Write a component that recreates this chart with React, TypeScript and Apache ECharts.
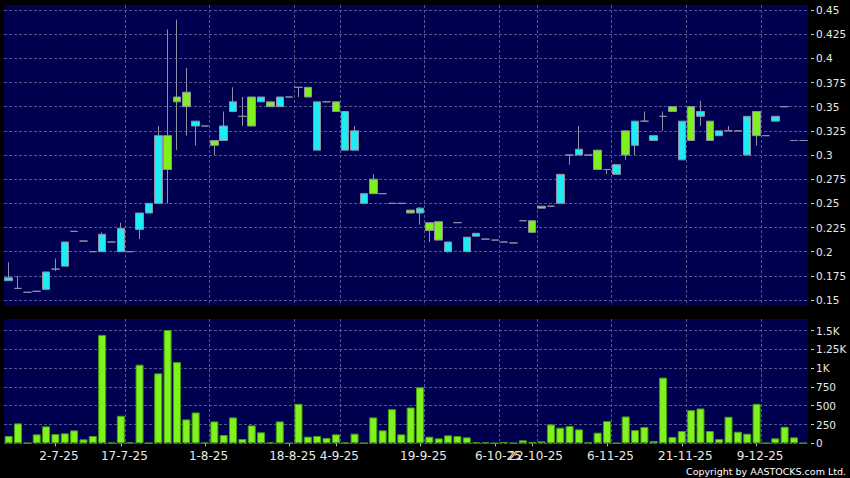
import React, { useEffect, useRef } from "react";
import * as echarts from "echarts";

const dates = [
  "23-6-25", "24-6-25", "25-6-25", "26-6-25", "30-6-25", "2-7-25", "3-7-25", "4-7-25", "8-7-25", "10-7-25",
  "14-7-25", "16-7-25", "17-7-25", "18-7-25", "21-7-25", "22-7-25", "23-7-25", "24-7-25", "25-7-25", "28-7-25",
  "30-7-25", "1-8-25", "4-8-25", "5-8-25", "6-8-25", "7-8-25", "8-8-25", "11-8-25", "13-8-25", "15-8-25",
  "18-8-25", "20-8-25", "25-8-25", "28-8-25", "1-9-25", "4-9-25", "5-9-25", "8-9-25", "9-9-25", "10-9-25",
  "11-9-25", "12-9-25", "16-9-25", "17-9-25", "19-9-25", "22-9-25", "23-9-25", "24-9-25", "25-9-25", "26-9-25",
  "29-9-25", "30-9-25", "6-10-25", "9-10-25", "13-10-25", "17-10-25", "22-10-25", "23-10-25", "24-10-25", "27-10-25",
  "28-10-25", "30-10-25", "31-10-25", "3-11-25", "6-11-25", "7-11-25", "10-11-25", "11-11-25", "12-11-25", "13-11-25",
  "17-11-25", "19-11-25", "21-11-25", "24-11-25", "25-11-25", "26-11-25", "27-11-25", "1-12-25", "3-12-25", "5-12-25",
  "9-12-25", "10-12-25", "11-12-25", "12-12-25", "15-12-25", "16-12-25",
];

const tickLabels = [
  "2-7-25", "17-7-25", "1-8-25", "18-8-25", "4-9-25", "19-9-25",
  "6-10-25", "22-10-25", "6-11-25", "21-11-25", "9-12-25",
];

const openP = [
  0.170, 0.162, 0.158, 0.159, 0.161, 0.182, 0.185, 0.221, 0.211, 0.200,
  0.200, 0.210, 0.200, 0.200, 0.223, 0.240, 0.250, 0.320, 0.360, 0.365,
  0.330, 0.330, 0.315, 0.315, 0.345, 0.340, 0.360, 0.355, 0.355, 0.350,
  0.360, 0.370, 0.370, 0.305, 0.355, 0.355, 0.305, 0.305, 0.250, 0.275,
  0.260, 0.250, 0.250, 0.243, 0.240, 0.230, 0.231, 0.200, 0.230, 0.200,
  0.216, 0.213, 0.212, 0.210, 0.209, 0.232, 0.232, 0.247, 0.247, 0.250,
  0.300, 0.300, 0.300, 0.305, 0.285, 0.280, 0.325, 0.310, 0.335, 0.315,
  0.340, 0.350, 0.295, 0.350, 0.340, 0.335, 0.320, 0.325, 0.325, 0.300,
  0.345, 0.320, 0.335, 0.350, 0.315, 0.315,
];
const closeP = [
  0.173, 0.162, 0.158, 0.159, 0.179, 0.182, 0.210, 0.221, 0.211, 0.200,
  0.218, 0.210, 0.224, 0.200, 0.240, 0.250, 0.320, 0.285, 0.355, 0.350,
  0.335, 0.330, 0.310, 0.330, 0.355, 0.340, 0.330, 0.360, 0.350, 0.360,
  0.360, 0.370, 0.360, 0.355, 0.355, 0.345, 0.345, 0.325, 0.260, 0.260,
  0.260, 0.250, 0.250, 0.240, 0.245, 0.222, 0.212, 0.210, 0.230, 0.215,
  0.219, 0.213, 0.212, 0.210, 0.209, 0.232, 0.220, 0.245, 0.247, 0.280,
  0.300, 0.306, 0.300, 0.285, 0.285, 0.290, 0.300, 0.335, 0.335, 0.320,
  0.340, 0.345, 0.335, 0.315, 0.345, 0.315, 0.325, 0.325, 0.325, 0.340,
  0.320, 0.320, 0.340, 0.350, 0.315, 0.315,
];
const lowP = [
  0.170, 0.162, 0.158, 0.159, 0.161, 0.180, 0.185, 0.221, 0.211, 0.200,
  0.200, 0.210, 0.200, 0.200, 0.213, 0.240, 0.250, 0.250, 0.305, 0.320,
  0.310, 0.330, 0.300, 0.315, 0.345, 0.330, 0.330, 0.355, 0.350, 0.350,
  0.360, 0.360, 0.360, 0.305, 0.355, 0.345, 0.305, 0.305, 0.250, 0.260,
  0.260, 0.250, 0.249, 0.240, 0.228, 0.210, 0.212, 0.199, 0.230, 0.200,
  0.216, 0.213, 0.212, 0.210, 0.209, 0.232, 0.220, 0.245, 0.247, 0.250,
  0.290, 0.300, 0.300, 0.285, 0.280, 0.280, 0.295, 0.300, 0.335, 0.315,
  0.325, 0.345, 0.295, 0.315, 0.330, 0.315, 0.320, 0.325, 0.325, 0.300,
  0.310, 0.320, 0.335, 0.350, 0.315, 0.315,
];
const highP = [
  0.189, 0.175, 0.158, 0.159, 0.179, 0.193, 0.210, 0.221, 0.211, 0.200,
  0.220, 0.210, 0.230, 0.200, 0.240, 0.250, 0.330, 0.430, 0.440, 0.390,
  0.335, 0.330, 0.315, 0.345, 0.370, 0.360, 0.360, 0.360, 0.355, 0.360,
  0.360, 0.370, 0.370, 0.355, 0.355, 0.355, 0.345, 0.330, 0.260, 0.280,
  0.260, 0.250, 0.250, 0.243, 0.246, 0.230, 0.231, 0.210, 0.230, 0.215,
  0.219, 0.213, 0.212, 0.210, 0.209, 0.232, 0.232, 0.247, 0.247, 0.280,
  0.300, 0.330, 0.300, 0.305, 0.285, 0.290, 0.325, 0.335, 0.345, 0.320,
  0.345, 0.350, 0.335, 0.350, 0.356, 0.335, 0.325, 0.330, 0.325, 0.340,
  0.345, 0.320, 0.340, 0.350, 0.315, 0.315,
];

const volume = [
  97, 265, 5, 119, 225, 123, 132, 172, 53, 97,
  1442, 9, 366, 12, 1045, 4, 930, 1561, 1080, 318,
  410, 9, 291, 110, 344, 57, 238, 146, 13, 291,
  2, 525, 88, 97, 71, 119, 9, 128, 4, 344,
  172, 454, 119, 476, 745, 88, 66, 106, 97, 79,
  13, 13, 4, 18, 4, 40, 18, 26, 251, 207,
  229, 185, 13, 141, 295, 4, 357, 176, 216, 31,
  873, 84, 163, 441, 463, 163, 57, 353, 154, 128,
  525, 4, 66, 220, 79, 4,
];

export default function App() {
  const ref = useRef<HTMLDivElement>(null);
  useEffect(() => {
    document.body.style.margin = "0";
    document.body.style.background = "#000";
    const chart = echarts.init(ref.current as HTMLDivElement, null, { renderer: "svg" });
    const labelIdx = new Set(tickLabels.map((d) => dates.indexOf(d)));
    const gridIdx = new Set(Array.from(labelIdx).map((i) => i + 1));
    const font = "DejaVu Sans";
    const navy = "#000050";
    const dashed = { show: true, lineStyle: { color: "#56568c", type: [3, 2] as any, width: 1 } };
    const vSplit = { ...dashed, interval: (i: number) => gridIdx.has(i), showMinLine: false, showMaxLine: false };
    const L = 4, W = 804;

    const option: any = {
      animation: false,
      backgroundColor: "#000000",
      grid: [
        { left: L, top: 5, width: W, height: 300.5, show: true, backgroundColor: navy, borderWidth: 0, z: -1 },
        { left: L, top: 10, width: W, height: 290 },
        { left: L, top: 319, width: W, height: 124.3, show: true, backgroundColor: navy, borderWidth: 0, z: -1 },
        { left: L, top: 330.5, width: W, height: 112.8 },
      ],
      xAxis: [
        {
          gridIndex: 0, type: "category", data: dates, boundaryGap: true,
          axisLine: { show: false }, axisTick: { show: false }, axisLabel: { show: false },
          splitLine: vSplit,
        },
        { gridIndex: 1, type: "category", data: dates, boundaryGap: true, show: false },
        {
          gridIndex: 2, type: "category", data: dates, boundaryGap: true, position: "bottom", offset: 3,
          axisLine: { show: false },
          axisTick: { show: true, interval: (i: number) => labelIdx.has(i), alignWithLabel: true, length: 3, lineStyle: { color: "#bbbbbb" } },
          axisLabel: {
            interval: (i: number) => labelIdx.has(i), color: "#e8e8e8", fontFamily: font, fontSize: 12,
            margin: 4, padding: [0, 0, 0, 7],
          },
          splitLine: vSplit,
        },
        { gridIndex: 3, type: "category", data: dates, boundaryGap: true, show: false },
      ],
      yAxis: [
        { gridIndex: 0, type: "value", show: false, min: 0, max: 1, splitLine: { show: false } },
        {
          gridIndex: 1, type: "value", position: "right", min: 0.15, max: 0.45, interval: 0.025, offset: 3,
          axisLine: { show: false },
          axisTick: { show: true, length: 3, lineStyle: { color: "#cfcfcf" } },
          axisLabel: {
            color: "#e8e8e8", fontFamily: font, fontSize: 10.5, margin: 5,
            formatter: (v: number) => String(+v.toFixed(3)),
          },
          splitLine: dashed,
        },
        { gridIndex: 2, type: "value", show: false, min: 0, max: 1, splitLine: { show: false } },
        {
          gridIndex: 3, type: "value", position: "right", min: 0, max: 1500, interval: 250, offset: 3,
          axisLine: { show: false },
          axisTick: { show: true, length: 3, lineStyle: { color: "#cfcfcf" } },
          axisLabel: {
            color: "#e8e8e8", fontFamily: font, fontSize: 10.5, margin: 5,
            formatter: (v: number) => (v >= 1000 ? String(v / 1000) + "K" : String(v)),
          },
          splitLine: dashed,
        },
      ],
      series: [
        {
          type: "candlestick", xAxisIndex: 1, yAxisIndex: 1, barWidth: 8,
          data: dates.map((_, i) => [openP[i], closeP[i], lowP[i], highP[i]]),
          itemStyle: {
            color: "#1eecf4", color0: "#7fef1e",
            borderColor: "#9090a4", borderColor0: "#9090a4", borderColorDoji: "#9090a4", borderWidth: 1,
          },
        },
        {
          type: "bar", xAxisIndex: 3, yAxisIndex: 3, barWidth: 8,
          data: volume,
          itemStyle: { color: "#7ef41c", borderColor: "#4a9a14", borderWidth: 1 },
        },
      ],
      graphic: [
        {
          type: "text", right: 4, top: 466,
          style: { text: "Copyright by AASTOCKS.com Ltd.", fill: "#ffffff", font: '9.5px "DejaVu Sans"' },
        },
      ],
    };
    chart.setOption(option);
    return () => chart.dispose();
  }, []);
  return <div ref={ref} style={{ position: "fixed", left: 0, top: 0, width: 850, height: 478 }} />;
}
